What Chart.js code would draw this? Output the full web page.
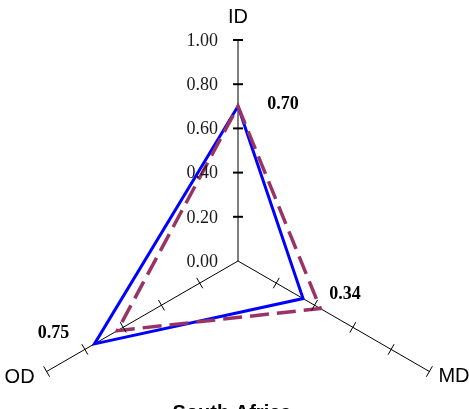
<!DOCTYPE html>
<html>
<head>
<meta charset="utf-8">
<title>South Africa</title>
<script src="https://cdn.jsdelivr.net/npm/chart.js"></script>
<style>
  html, body { margin: 0; padding: 0; background: #fff; overflow: hidden; }
  #wrap { width: 469px; height: 520px; }
  canvas { display: block; }
</style>
</head>
<body>
<div id="wrap"><canvas id="radar" width="469" height="520"></canvas></div>
<script>
var axes = ["ID", "MD", "OD"];
var seriesA = [0.70, 0.34, 0.75];
var seriesB = [0.70, 0.43, 0.63];
var tickValues = [0, 0.2, 0.4, 0.6, 0.8, 1.0];
var chartTitle = "South Africa";

// where the value labels sit relative to their points
var valueLabelOffsets = [[45, -2], [42, -4], [-41, -11]];

var axisDecor = {
  id: "axisDecor",
  afterDatasetsDraw: function (chart) {
    var ctx = chart.ctx;
    var r = chart.scales.r;
    ctx.save();

    // tick marks on every spoke
    ctx.strokeStyle = "#000";
    for (var i = 0; i < axes.length; i++) {
      var ang = r.getIndexAngle(i) - Math.PI / 2;
      var px = -Math.sin(ang), py = Math.cos(ang);
      var half = i === 0 ? 5 : 6;
      ctx.lineWidth = i === 0 ? 2 : 1;
      for (var t = 1; t < tickValues.length; t++) {
        var p = r.getPointPositionForValue(i, tickValues[t]);
        ctx.beginPath();
        ctx.moveTo(p.x - px * half, p.y - py * half);
        ctx.lineTo(p.x + px * half, p.y + py * half);
        ctx.stroke();
      }
    }

    // tick labels along the ID spoke
    ctx.fillStyle = "#1a1a1a";
    ctx.font = "18px 'Liberation Serif', serif";
    ctx.textAlign = "right";
    ctx.textBaseline = "middle";
    tickValues.forEach(function (v) {
      var p = r.getPointPositionForValue(0, v);
      ctx.fillText(v.toFixed(2), p.x - 20, p.y + 1);
    });

    // spoke names
    ctx.fillStyle = "#000";
    ctx.font = "20px 'Liberation Sans', Arial, sans-serif";
    var top = r.getPointPositionForValue(0, 1);
    ctx.textAlign = "center";
    ctx.fillText(axes[0], top.x, top.y - 23);
    var md = r.getPointPositionForValue(1, 1);
    ctx.textAlign = "left";
    ctx.fillText(axes[1], md.x + 9, md.y + 5);
    var od = r.getPointPositionForValue(2, 1);
    ctx.textAlign = "right";
    ctx.fillText(axes[2], od.x - 12, od.y + 6);

    // values of the solid series
    ctx.font = "bold 18px 'Liberation Serif', serif";
    ctx.textAlign = "center";
    seriesA.forEach(function (v, k) {
      var p = r.getPointPositionForValue(k, v);
      ctx.fillText(v.toFixed(2), p.x + valueLabelOffsets[k][0], p.y + valueLabelOffsets[k][1]);
    });

    // title under the plot
    ctx.font = "bold 20px 'Liberation Sans', Arial, sans-serif";
    ctx.textBaseline = "top";
    ctx.fillText(chartTitle, 232, 403);
    ctx.restore();
  }
};

new Chart(document.getElementById("radar"), {
  type: "radar",
  data: {
    labels: axes,
    datasets: [
      {
        label: "A",
        data: seriesA,
        borderColor: "#0000ff",
        borderWidth: 3,
        fill: false,
        pointRadius: 0,
        order: 1
      },
      {
        label: "B",
        data: seriesB,
        borderColor: "#993366",
        borderWidth: 3.5,
        borderDash: [19, 8],
        fill: false,
        pointRadius: 0,
        order: 0
      }
    ]
  },
  options: {
    responsive: false,
    animation: false,
    layout: { padding: { left: 17, right: 10, top: 40, bottom: 38 } },
    plugins: { legend: { display: false }, tooltip: { enabled: false } },
    elements: { line: { tension: 0, borderJoinStyle: "miter" } },
    scales: {
      r: {
        min: 0,
        max: 1,
        ticks: { display: false, stepSize: 0.2 },
        grid: { display: false },
        angleLines: { display: true, color: "#000", lineWidth: 1 },
        pointLabels: { display: false }
      }
    }
  },
  plugins: [axisDecor]
});
</script>
</body>
</html>
